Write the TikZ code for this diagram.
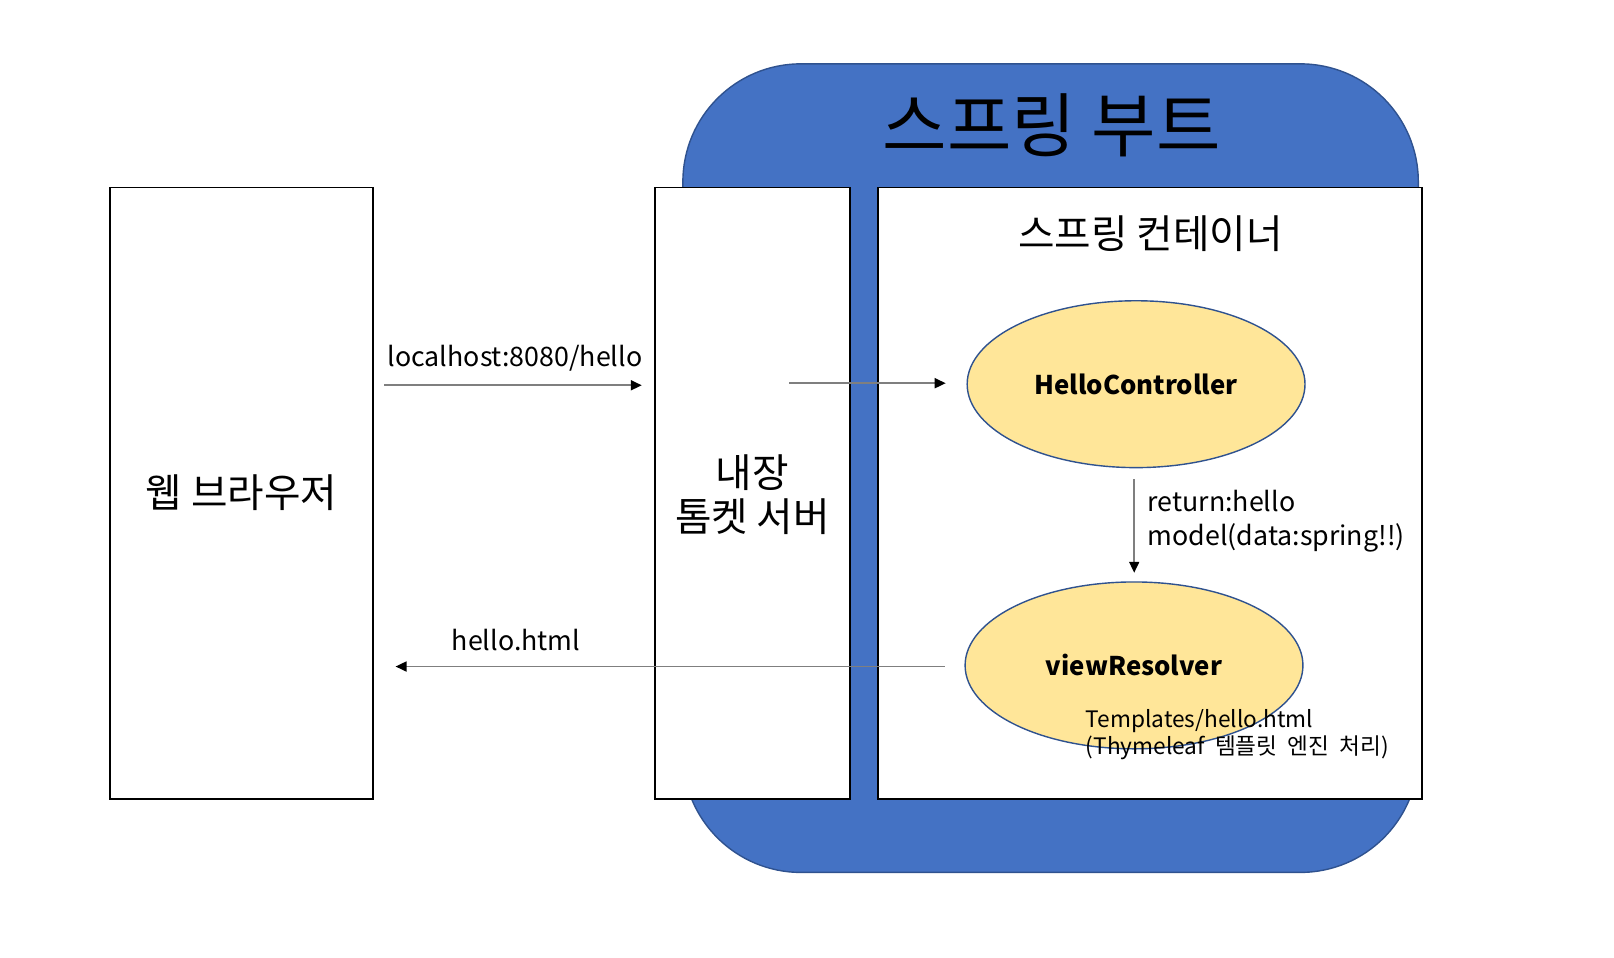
\documentclass[tikz,border=0pt]{standalone}
\usepackage{fontspec}
\setmainfont{Noto Sans CJK KR}
\usetikzlibrary{arrows.meta,shapes.geometric}
\definecolor{sbblue}{HTML}{4472C4}
\definecolor{sbedge}{HTML}{2F528F}
\definecolor{ellfill}{HTML}{FFE699}
\definecolor{arrowgray}{HTML}{7F7F7F}
\tikzset{
  box/.style={draw=black, line width=1.9pt, fill=white, inner sep=0pt},
  ell/.style={ellipse, draw=sbedge, line width=1.4pt, fill=ellfill, inner sep=0pt,
    minimum width=328pt, minimum height=162pt, font=\fontsize{25}{30}\selectfont\bfseries},
  flow/.style={draw=arrowgray, line width=1.8pt, -{Triangle[length=11pt,width=10pt,color=black]}},
  lbl/.style={inner sep=0pt, font=\fontsize{26}{33}\selectfont},
  big/.style={font=\fontsize{38.5}{43}\selectfont, align=center}
}
\begin{document}
\begin{tikzpicture}[x=1pt,y=-1pt,scale=1.03,every node/.append style={transform shape}]
\useasboundingbox (0,0) rectangle (1567,930);
% spring boot background
\node[draw=sbedge, fill=sbblue, line width=1.4pt, rounded corners=118pt,
  minimum width=714pt, minimum height=785pt, inner sep=0pt] (boot) at (1020,454.5) {};
\node[font=\fontsize{68}{72}\selectfont] (title) at (1021,122) {스프링 부트};
% boxes
\node[box, minimum width=255pt, minimum height=594pt] (web) at (234.5,479) {};
\node[big] (webtxt) at (234.5,478) {웹 브라우저};
\node[box, minimum width=189pt, minimum height=594pt] (tomcat) at (730.5,479) {};
\node[big] (tomtxt) at (730.5,480) {내장\\톰켓 서버};
\node[box, minimum width=529pt, minimum height=594pt] (cont) at (1116.5,479) {};
\node[big] (conttxt) at (1117,227) {스프링 컨테이너};
% ellipses
\node[ell] (hc) at (1103,373) {HelloController};
\node[ell] (vr) at (1101,646) {viewResolver};
% connector endpoints
\coordinate (a1s) at (373,374);
\coordinate (a1e) at (623,374);
\coordinate (a2s) at (766,372);
\coordinate (a2e) at (918,372);
\coordinate (a3s) at (1101,465);
\coordinate (a3e) at (1101,556);
\coordinate (a4s) at (917,647);
\coordinate (a4e) at (384,647);
\draw[flow] (a1s) -- (a1e);
\draw[flow] (a2s) -- (a2e);
\draw[flow] (a3s) -- (a3e);
\draw[flow] (a4s) -- (a4e);
% labels
\node[lbl] (l1) at (500,348) {localhost:8080/hello};
\node[lbl] (l4) at (501,621) {hello.html};
\node[lbl, anchor=west, align=left] (l3) at (1114,506) {return:hello\\model(data:spring!!)};
\node[inner sep=0pt, anchor=west, align=left, font=\fontsize{22}{26}\selectfont] (l5) at (1054,713)
  {Templates/hello.html\\(Thymeleaf\hspace{0.45em}템플릿\hspace{0.45em}엔진\hspace{0.45em}처리)};
\end{tikzpicture}
\end{document}
